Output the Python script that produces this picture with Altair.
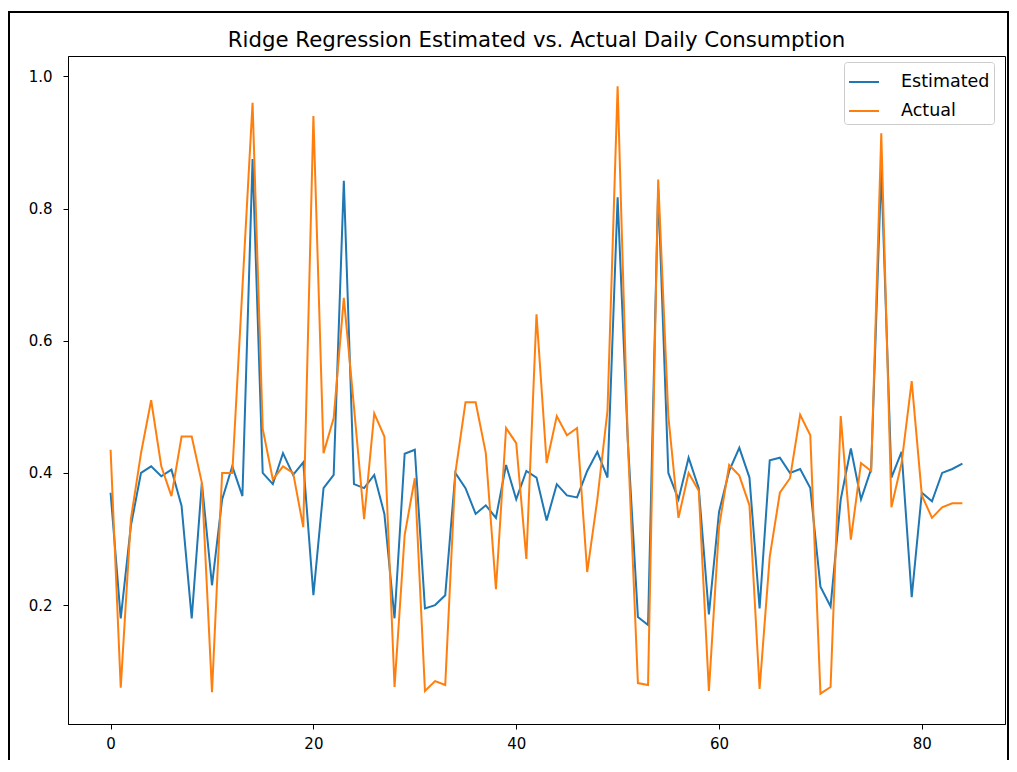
import altair as alt
import pandas as pd

# ---- data ----
series_names = ["Estimated", "Actual"]
series_colors = ["#1f77b4", "#ff7f0e"]

estimated = [0.37, 0.18, 0.32, 0.40, 0.41, 0.395, 0.405, 0.35, 0.18, 0.385,
             0.23, 0.36, 0.41, 0.365, 0.875, 0.40, 0.383, 0.43, 0.397, 0.416,
             0.215, 0.377, 0.397, 0.842, 0.383, 0.377, 0.397, 0.338, 0.18, 0.429,
             0.435, 0.195, 0.20, 0.215, 0.40, 0.377, 0.338, 0.351, 0.332, 0.412,
             0.36, 0.403, 0.393, 0.328, 0.383, 0.366, 0.363, 0.403, 0.432, 0.393,
             0.817, 0.45, 0.182, 0.17, 0.83, 0.40, 0.36, 0.423, 0.377, 0.186,
             0.341, 0.403, 0.438, 0.393, 0.195, 0.419, 0.423, 0.40, 0.406, 0.377,
             0.228, 0.198, 0.36, 0.437, 0.36, 0.406, 0.86, 0.393, 0.432, 0.212,
             0.37, 0.357, 0.40, 0.406, 0.414]

actual = [0.435, 0.075, 0.33, 0.43, 0.51, 0.41, 0.365, 0.455, 0.455, 0.385,
          0.068, 0.40, 0.40, 0.68, 0.96, 0.467, 0.39, 0.41, 0.40, 0.318,
          0.94, 0.43, 0.483, 0.665, 0.50, 0.33, 0.49, 0.455, 0.076, 0.306,
          0.392, 0.07, 0.085, 0.079, 0.40, 0.507, 0.507, 0.43, 0.224, 0.468,
          0.445, 0.27, 0.64, 0.415, 0.486, 0.457, 0.468, 0.25, 0.36, 0.494,
          0.985, 0.45, 0.082, 0.079, 0.844, 0.486, 0.332, 0.40, 0.373, 0.07,
          0.318, 0.412, 0.396, 0.351, 0.073, 0.273, 0.37, 0.392, 0.488, 0.457,
          0.066, 0.076, 0.486, 0.299, 0.415, 0.403, 0.914, 0.348, 0.415, 0.539,
          0.366, 0.332, 0.348, 0.354, 0.354]

index = list(range(len(estimated)))
x_ticks = [0, 20, 40, 60, 80]
y_ticks = [0.2, 0.4, 0.6, 0.8, 1.0]
title_text = "Ridge Regression Estimated vs. Actual Daily Consumption"

# ---- build table ----
df = pd.DataFrame({"idx": index, "Estimated": estimated, "Actual": actual})
long = df.melt("idx", var_name="series", value_name="value")

# matplotlib-like 5% margins
lo = min(min(estimated), min(actual))
hi = max(max(estimated), max(actual))
ypad = 0.05 * (hi - lo)
ydom = [lo - ypad, hi + ypad]
xpad = 0.05 * (max(index) - min(index))
xdom = [min(index) - xpad, max(index) + xpad]

font = "DejaVu Sans"
W, H = 937, 668

x_enc = alt.X("idx:Q", scale=alt.Scale(domain=xdom, nice=False, zero=False),
              axis=alt.Axis(values=x_ticks, title=None, format="d", labelPadding=7))
y_enc = alt.Y("value:Q", scale=alt.Scale(domain=ydom, nice=False, zero=False),
              axis=alt.Axis(values=y_ticks, title=None, format=".1f", labelPadding=11))
color_enc = alt.Color(
    "series:N",
    scale=alt.Scale(domain=series_names, range=series_colors),
    legend=alt.Legend(
        title=None, orient="none", legendX=776, legendY=6,
        symbolType="stroke", symbolStrokeWidth=2, symbolSize=900,
        labelFont=font, labelFontSize=17.5, labelColor="black",
        strokeColor="#cccccc", fillColor="white", cornerRadius=3,
        padding=4, rowPadding=4, labelOffset=21,
    ),
)

base = alt.Chart(long)
line_layers = [
    base.transform_filter(alt.datum.series == s)
    .mark_line(strokeWidth=2, clip=True)
    .encode(x=x_enc, y=y_enc, color=color_enc)
    for s in series_names
]

one = pd.DataFrame({"label": [title_text]})

title_mark = alt.Chart(one).mark_text(
    font=font, fontSize=21.3, color="black", align="center", baseline="alphabetic"
).encode(x=alt.value(W / 2), y=alt.value(-9), text="label:N")

frame = alt.Chart(one).mark_rect(
    fillOpacity=0, stroke="black", strokeWidth=2
).encode(x=alt.value(-59), x2=alt.value(940), y=alt.value(-44), y2=alt.value(760))

chart = alt.layer(*line_layers, title_mark, frame).properties(
    width=W,
    height=H,
    autosize=alt.AutoSizeParams(type="none"),
    padding={"left": 60, "top": 48, "right": 4, "bottom": 36},
).configure_view(
    stroke="black", strokeWidth=1
).configure_axis(
    grid=False, domainColor="black", tickColor="black", labelColor="black",
    tickSize=5, labelFont=font, labelFontSize=15, domainWidth=1,
)

chart.save("out.html", embed_options={"renderer": "svg", "actions": False})
